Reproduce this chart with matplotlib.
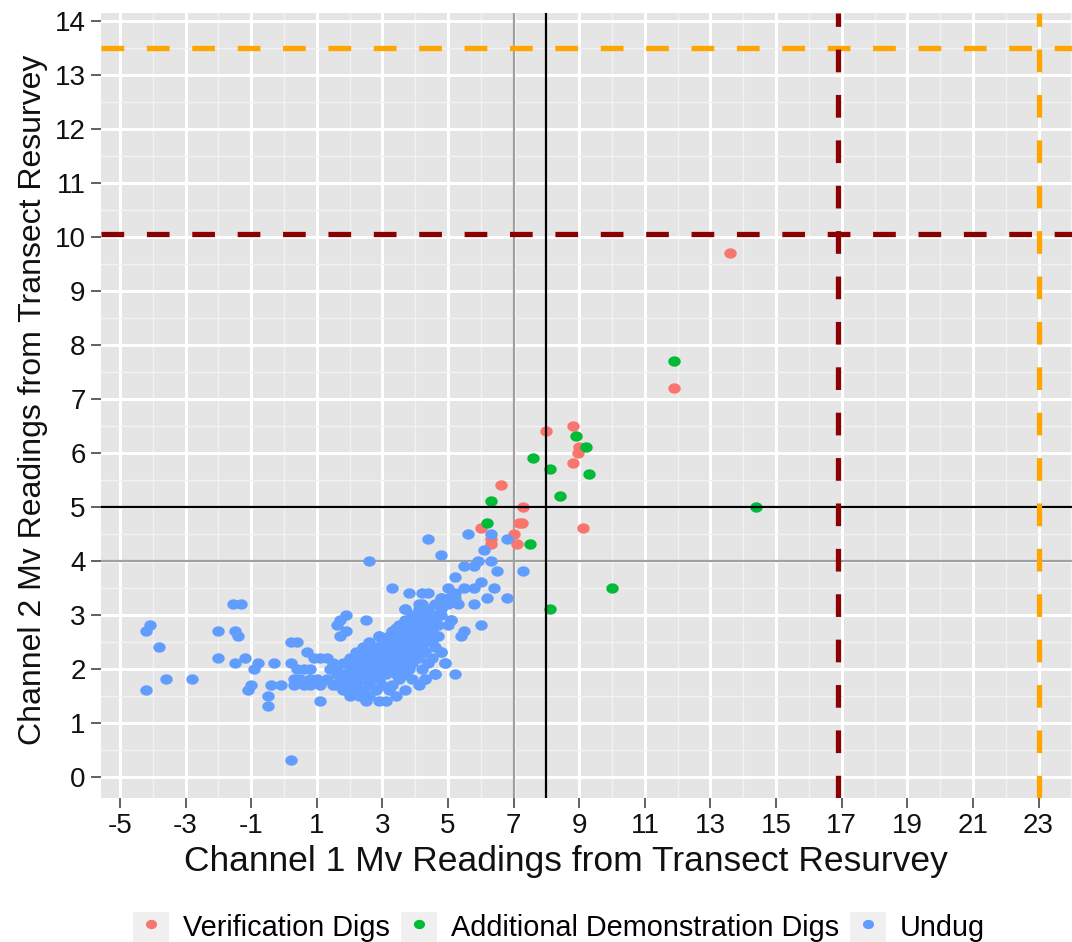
import matplotlib
matplotlib.use("Agg")
import matplotlib.pyplot as plt
import numpy as np
from matplotlib.path import Path
from matplotlib.patches import Rectangle
from matplotlib.lines import Line2D
from matplotlib.legend_handler import HandlerTuple

plt.rcParams['font.family'] = ['Liberation Sans', 'DejaVu Sans']

# ---------------- data ----------------
verif_x = [13.6, 11.9, 8.8, 8.0, 9.0, 8.95, 8.8, 6.6, 7.3, 7.15, 7.25, 9.1, 6.0, 7.0, 6.3, 7.1, 6.3]
verif_y = [9.7, 7.2, 6.5, 6.4, 6.1, 6.0, 5.8, 5.4, 5.0, 4.7, 4.7, 4.6, 4.6, 4.5, 4.3, 4.3, 4.4]

demo_x = [11.9, 8.9, 9.2, 7.6, 8.1, 9.3, 8.4, 6.3, 14.4, 6.2, 7.5, 10.0, 8.1]
demo_y = [7.7, 6.3, 6.1, 5.9, 5.7, 5.6, 5.2, 5.1, 5.0, 4.7, 4.3, 3.5, 3.1]

undug_x = [
    -4.1, -4.2, -3.8, -3.6, -4.2, -2.8, -2.0, -2.0, -1.55, -1.3, -1.5, -1.4, -1.5, -1.2,
    -1.1, -1.0, -0.8, -0.9, -0.3, -0.5, -0.5, -0.4, -0.1,
    0.2, 0.2, 0.4, 0.4, 0.6, 0.8, 0.3, 0.5, 0.8, 1.0, 0.3, 0.6, 0.8, 1.1, 0.7, 0.9, 1.1, 1.1, 0.2,
    1.6, 1.7, 1.9, 1.7, 1.9, 2.5, 1.6, 2.6, 3.3, 1.3, 1.4, 1.5, 1.3, 1.6,
    2.5, 2.9, 3.1,
    2.0, 2.3, 2.6, 3.4,
    1.8, 2.1, 2.4, 2.8, 3.2, 3.7,
    1.5, 1.9, 2.2, 2.6, 3.0, 3.3, 4.1,
    1.7, 2.0, 2.4, 2.7, 2.9, 3.5, 3.9, 4.3,
    1.9, 2.2, 2.5, 2.8, 3.1, 3.4, 3.7, 4.6,
    1.6, 2.0, 2.3, 2.6, 2.9, 3.2, 3.5, 3.8, 4.2,
    1.8, 2.1, 2.4, 2.7, 3.0, 3.3, 3.6, 3.9, 4.4, 4.9,
    2.0, 2.3, 2.6, 2.9, 3.2, 3.5, 3.8, 4.1, 4.5,
    2.2, 2.5, 2.8, 3.1, 3.4, 3.7, 4.0, 4.3, 4.8,
    2.4, 2.7, 3.0, 3.3, 3.6, 3.9, 4.2, 4.6,
    2.6, 3.0, 3.3, 3.6, 3.9, 4.2, 4.5,
    2.9, 3.2, 3.5, 3.8, 4.1, 4.4, 4.7,
    3.3, 3.6, 3.9, 4.2, 4.5,
    3.5, 3.8, 4.1, 4.4, 4.7, 5.0,
    3.7, 4.0, 4.3, 4.6, 5.1,
    3.9, 4.2, 4.5, 4.8,
    3.7, 4.1, 4.4, 4.8,
    4.2, 4.6, 5.0,
    4.8, 5.2,
    3.8, 4.2, 4.4, 4.1, 3.7, 3.4, 3.6, 3.8, 2.9, 5.1, 6.0, 5.5, 5.4, 4.8, 4.9, 5.2, 4.6, 4.3,
    4.4, 5.6, 6.3, 6.8, 4.8, 6.1, 6.3, 5.9, 5.5, 5.8, 6.5, 7.3, 5.2, 6.0, 5.8, 5.5, 5.0, 5.2,
    4.8, 6.4, 6.2, 6.8, 5.8, 5.3, 5.0,
]
undug_y = [
    2.8, 2.7, 2.4, 1.8, 1.6, 1.8, 2.7, 2.2, 3.2, 3.2, 2.7, 2.6, 2.1, 2.2,
    1.6, 1.7, 2.1, 2.0, 2.1, 1.5, 1.3, 1.7, 1.7,
    2.1, 2.5, 2.5, 2.0, 2.0, 2.0, 1.8, 1.8, 1.8, 1.8, 1.7, 1.7, 1.7, 1.7, 2.3, 2.2, 2.2, 1.4, 0.3,
    2.8, 2.9, 3.0, 2.6, 2.7, 2.9, 1.9, 4.0, 3.5, 1.8, 2.0, 2.1, 2.2, 1.7,
    1.4, 1.4, 1.4,
    1.5, 1.5, 1.5, 1.5,
    1.6, 1.6, 1.6, 1.6, 1.6, 1.6,
    1.7, 1.7, 1.7, 1.7, 1.7, 1.7, 1.7,
    1.8, 1.8, 1.8, 1.8, 1.8, 1.8, 1.8, 1.8,
    1.9, 1.9, 1.9, 1.9, 1.9, 1.9, 1.9, 1.9,
    2.0, 2.0, 2.0, 2.0, 2.0, 2.0, 2.0, 2.0, 2.0,
    2.1, 2.1, 2.1, 2.1, 2.1, 2.1, 2.1, 2.1, 2.1, 2.1,
    2.2, 2.2, 2.2, 2.2, 2.2, 2.2, 2.2, 2.2, 2.2,
    2.3, 2.3, 2.3, 2.3, 2.3, 2.3, 2.3, 2.3, 2.3,
    2.4, 2.4, 2.4, 2.4, 2.4, 2.4, 2.4, 2.4,
    2.5, 2.5, 2.5, 2.5, 2.5, 2.5, 2.5,
    2.6, 2.6, 2.6, 2.6, 2.6, 2.6, 2.6,
    2.7, 2.7, 2.7, 2.7, 2.7,
    2.8, 2.8, 2.8, 2.8, 2.8, 2.8,
    2.9, 2.9, 2.9, 2.9, 2.9,
    3.0, 3.0, 3.0, 3.0,
    3.1, 3.1, 3.1, 3.1,
    3.2, 3.2, 3.2,
    3.3, 3.3,
    3.4, 3.4, 3.4, 3.2, 3.1, 2.75, 2.7, 2.8, 2.6, 2.9, 2.8, 2.7, 2.6, 2.3, 2.1, 1.9, 1.9, 1.8,
    4.4, 4.5, 4.5, 4.4, 4.1, 4.2, 4.0, 4.0, 3.9, 3.9, 3.8, 3.8, 3.7, 3.6, 3.5, 3.5, 3.5, 3.4,
    3.3, 3.5, 3.3, 3.3, 3.2, 3.2, 3.3,
]

# reference lines
hline_orange = 13.5
hline_darkred = 10.05
vline_darkred = 16.9
vline_orange = 23.0
hline_black, vline_black = 5.0, 8.0
hline_gray, vline_gray = 4.0, 7.0

x_ticks = list(range(-5, 24, 2))
y_ticks = list(range(0, 15))
labels = ["Verification Digs", "Additional Demonstration Digs", "Undug"]
colors = ["#F8766D", "#00BA38", "#619CFF"]

# ---------------- figure ----------------
W, H = 1072, 942
fig = plt.figure(figsize=(W / 100, H / 100), dpi=100)
ax = fig.add_axes([101 / W, 1 - 797.7 / H, 971 / W, 785 / H])
ax.set_facecolor("#E5E5E5")
for s in ax.spines.values():
    s.set_visible(False)

ax.set_xticks(x_ticks)
ax.set_xticks([t - 1 for t in x_ticks] + [x_ticks[-1] + 1], minor=True)
ax.set_yticks(y_ticks)
ax.set_yticks([t + 0.5 for t in y_ticks[:-1]], minor=True)
ax.set_xticklabels([str(t) for t in x_ticks])
ax.set_yticklabels([str(t) for t in y_ticks])
ax.set_xlim(-5.579, 24.02)
ax.set_ylim(-0.389, 14.148)

ax.grid(which="major", color="white", linewidth=2.2)
ax.grid(which="minor", color="#F2F2F2", linewidth=1.0)
ax.set_axisbelow(True)
ax.tick_params(which="major", direction="out", length=7, width=1.3, color="#555555",
               labelsize=20, labelcolor="#111111")
ax.tick_params(axis="x", which="major", pad=4)
ax.tick_params(axis="y", which="major", pad=4)
ax.tick_params(which="minor", length=0)

# ellipse marker (slightly wider than tall)
t = np.linspace(0, 2 * np.pi, 60)
ell = Path(np.column_stack([1.2 * np.cos(t), np.sin(t)]), closed=True)
msize = 80

ax.scatter(verif_x, verif_y, s=msize, marker=ell, color=colors[0], linewidths=0, zorder=3)
ax.scatter(demo_x, demo_y, s=msize, marker=ell, color=colors[1], linewidths=0, zorder=3)
ax.scatter(undug_x, undug_y, s=msize, marker=ell, color=colors[2], linewidths=0, zorder=3)

# reference lines
ax.axvline(vline_gray, color="#A0A0A0", lw=1.6, zorder=2)
ax.axhline(hline_gray, color="#A0A0A0", lw=1.6, zorder=2)
ax.axvline(vline_black, color="black", lw=1.6, zorder=4)
ax.axhline(hline_black, color="black", lw=1.6, zorder=4)
dash = dict(lw=3.8, dashes=(4.3, 4.3), zorder=4)
ax.axhline(hline_orange, color="#FFA500", **dash)
ax.axhline(hline_darkred, color="#8B0000", **dash)
ax.axvline(vline_darkred, color="#8B0000", **dash)
ax.axvline(vline_orange, color="#FFA500", **dash)

ax.set_xlabel("Channel 1 Mv Readings from Transect Resurvey", fontsize=25.5, color="#111111")
ax.set_ylabel("Channel 2 Mv Readings from Transect Resurvey", fontsize=23, color="#111111")
ax.xaxis.set_label_coords((566 - 101) / 971, -(861 - 797.7) / 785)
ax.yaxis.set_label_coords((33 - 101) / 971, (797.7 - 400) / 785)
ax.xaxis.label.set_va("center")
ax.yaxis.label.set_va("center")

# legend
handles = []
for c in colors:
    box = Rectangle((0, 0), 1, 1, facecolor="#F0F0F0", edgecolor="none")
    dot = Line2D([], [], marker=ell, linestyle="none", markersize=8.0,
                 markerfacecolor=c, markeredgewidth=0)
    handles.append((box, dot))
leg = fig.legend(handles, labels, handler_map={tuple: HandlerTuple(ndivide=1, pad=0)},
                 loc="center", bbox_to_anchor=(559 / W, 1 - 927 / H), ncol=3,
                 frameon=False, fontsize=20.8, handlelength=1.25, handleheight=1.25,
                 handletextpad=0.48, columnspacing=0.38, borderpad=0, borderaxespad=0)

fig.savefig("out.png", dpi=100)
